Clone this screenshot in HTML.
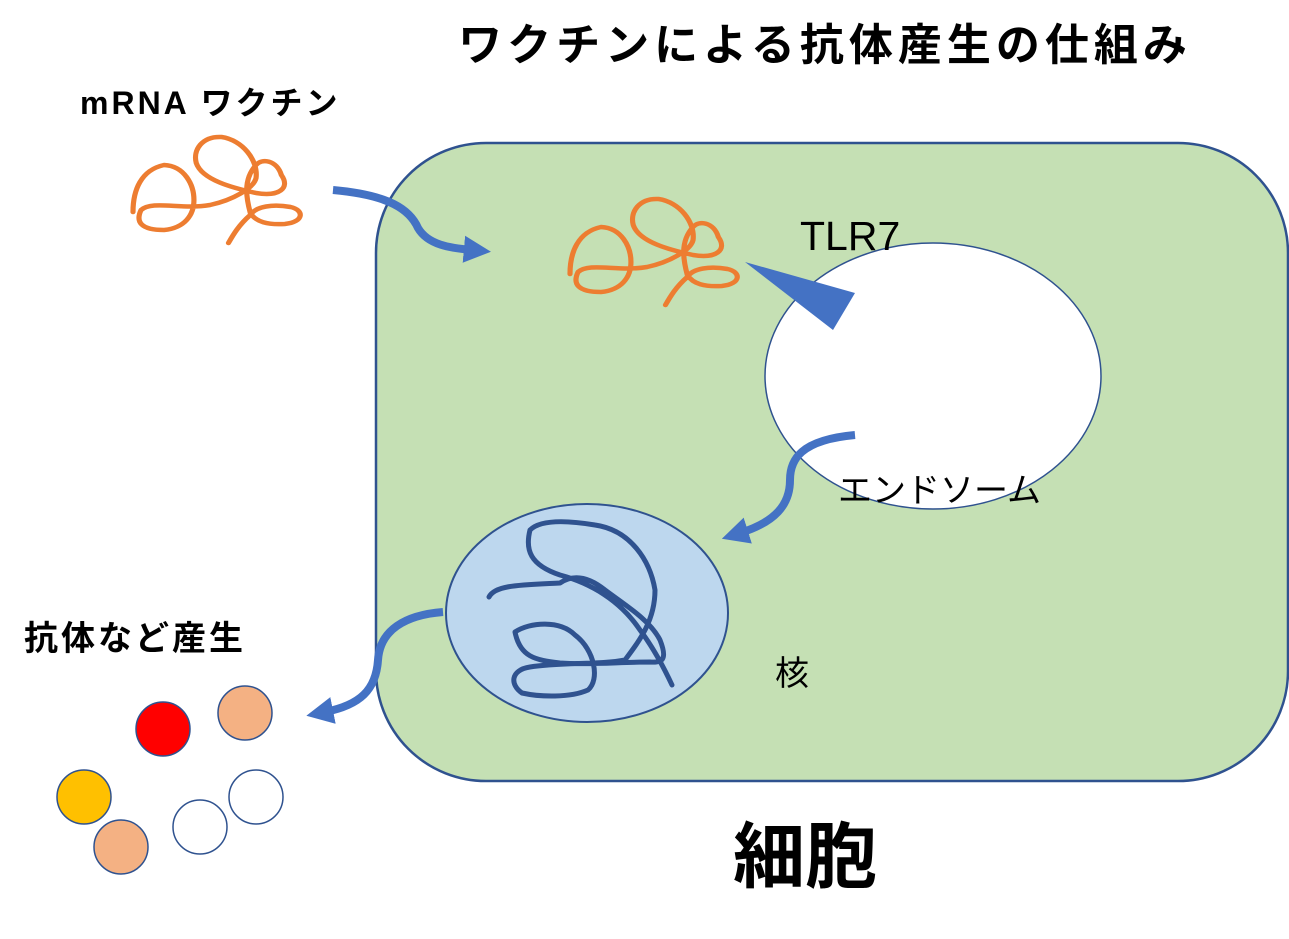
<!DOCTYPE html>
<html><head><meta charset="utf-8"><style>
html,body{margin:0;padding:0;background:#fff}
svg{display:block}
text{font-family:"Liberation Sans","Noto Sans CJK JP",sans-serif;fill:#000}
</style></head><body>
<svg width="1289" height="939" viewBox="0 0 1289 939" xmlns="http://www.w3.org/2000/svg">
<defs>
<marker id="ah" viewBox="0 0 10 10" markerWidth="3.4" markerHeight="3.4" refX="3" refY="5" orient="auto" markerUnits="strokeWidth">
<path d="M0,0 L10,5 L0,10 z" fill="#4472c4"/></marker>
</defs>
<text x="825" y="60" font-size="44" font-weight="bold" text-anchor="middle" letter-spacing="5">ワクチンによる抗体産生の仕組み</text>
<text x="80" y="114" font-size="32" font-weight="bold" letter-spacing="3">mRNA ワクチン</text>

<g id="sq" fill="none" stroke="#ed7d31" stroke-width="4.5" stroke-linecap="round" stroke-linejoin="round" transform="translate(133,0) scale(1.15,1) translate(-133,0)">
<path d="M133,212 C133,190 140,170 160,165 C178,166 186,185 186,200 C186,215 178,228 160,230 C140,230 135,222 140,210 C150,200 175,210 200,205 C220,200 238,188 240,178 C242,160 228,140 210,137 C193,136 185,150 188,163 C193,180 220,188 240,193 C260,197 270,188 262,175 C258,160 245,158 240,165 C228,180 232,200 235,213 C240,222 250,225 265,224 C282,222 282,210 270,207 C255,204 240,206 235,215 C225,225 220,235 216,243"/>
</g>

<rect x="376" y="143" width="912" height="638" rx="110" fill="#c5e0b4" stroke="#2f528f" stroke-width="2.5"/>
<path d="M333,190 C390,195 410,210 418,228 C428,245 450,248 472,250" fill="none" stroke="#4472c4" stroke-width="8" marker-end="url(#ah)"/>
<use href="#sq" transform="translate(437,62)"/>
<ellipse cx="933" cy="376" rx="168" ry="133" fill="#fff" stroke="#2f528f" stroke-width="1.5"/>
<polygon points="745,262 855,293 833,330" fill="#4472c4"/>
<text x="800" y="250" font-size="41">TLR7</text>
<path d="M855,435 C800,440 790,460 790,480 C790,505 775,522 740,533" fill="none" stroke="#4472c4" stroke-width="8" marker-end="url(#ah)"/>
<text x="838" y="502" font-size="34">エンドソーム</text>

<ellipse cx="587" cy="613" rx="141" ry="109" fill="#bdd7ee" stroke="#2f528f" stroke-width="2"/>
<path d="M489,597 C495,585 520,585 560,583 C575,573 590,578 605,590 C625,605 650,620 660,640 C668,660 662,663 650,662 C620,662 590,665 560,663 C535,660 520,657 515,632 C530,622 560,620 575,635 C595,650 600,680 588,690 C570,698 540,697 522,693 C510,685 510,670 530,667 C560,662 600,665 625,660 C640,640 655,620 655,590 C650,560 630,530 595,525 C565,520 540,520 530,530 C525,550 530,565 560,575 C590,583 620,600 640,630 C655,650 665,670 672,685" fill="none" stroke="#2f528f" stroke-width="5" stroke-linecap="round" stroke-linejoin="round"/>
<text x="775" y="685" font-size="34">核</text>

<path d="M443,612 C405,615 380,630 378,660 C376,690 360,705 325,712" fill="none" stroke="#4472c4" stroke-width="8" marker-end="url(#ah)"/>
<text x="24" y="650" font-size="34" font-weight="bold" letter-spacing="3">抗体など産生</text>

<g stroke="#2f528f" stroke-width="1.5">
<circle cx="163" cy="729" r="27" fill="#ff0000"/>
<circle cx="245" cy="713" r="27" fill="#f4b183"/>
<circle cx="84" cy="797" r="27" fill="#ffc000"/>
<circle cx="121" cy="847" r="27" fill="#f4b183"/>
<circle cx="200" cy="827" r="27" fill="#fff"/>
<circle cx="256" cy="797" r="27" fill="#fff"/>
</g>
<text x="733" y="882" font-size="72" font-weight="bold">細胞</text>
</svg>
</body></html>
